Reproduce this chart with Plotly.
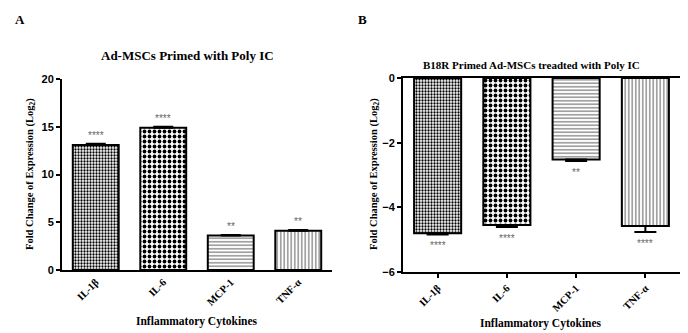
import plotly.graph_objects as go

W, H = 688, 333

categories = ["IL-1β", "IL-6", "MCP-1", "TNF-α"]
a_values = [13.1, 14.9, 3.6, 4.1]
a_errors = [0.12, 0.1, 0.06, 0.08]
a_stars = ["****", "****", "**", "**"]
b_values = [-4.8, -4.55, -2.52, -4.58]
b_errors = [0.04, 0.06, 0.05, 0.18]
b_stars = ["****", "****", "**", "****"]
a_yticks = [0, 5, 10, 15, 20]
b_yticks = [-6, -4, -2, 0]

patterns = [
    dict(shape=".", size=3, solidity=0.45, fgcolor="black", bgcolor="white", fillmode="replace"),
    dict(shape=".", size=5, solidity=0.45, fgcolor="black", bgcolor="white", fillmode="replace"),
    dict(shape="-", size=3.5, solidity=0.25, fgcolor="#444444", bgcolor="white", fillmode="replace"),
    dict(shape="|", size=3.5, solidity=0.25, fgcolor="#444444", bgcolor="white", fillmode="replace"),
]

SERIF = "Liberation Serif"
SANS = "Liberation Sans"

def px_x(p):
    return p / W

def px_y(p):
    return 1 - p / H

fig = go.Figure()

for i, cat in enumerate(categories):
    fig.add_trace(go.Bar(
        x=[cat], y=[a_values[i]], xaxis="x", yaxis="y", width=0.68,
        marker=dict(color="white", pattern=patterns[i], line=dict(color="black", width=2)),
        error_y=dict(type="data", symmetric=False, array=[a_errors[i]], arrayminus=[0],
                     color="black", thickness=2, width=10),
        showlegend=False,
    ))
    fig.add_trace(go.Bar(
        x=[cat], y=[b_values[i]], xaxis="x2", yaxis="y2", width=0.68,
        marker=dict(color="white", pattern=patterns[i], line=dict(color="black", width=2)),
        error_y=dict(type="data", symmetric=False, array=[0], arrayminus=[b_errors[i]],
                     color="black", thickness=2, width=11),
        showlegend=False,
    ))

annotations = []
for i, cat in enumerate(categories):
    annotations.append(dict(x=cat, y=a_values[i] + a_errors[i], xref="x", yref="y",
                            text=a_stars[i], showarrow=False, yanchor="bottom", yshift=1,
                            font=dict(family=SANS, size=10, color="#666666")))
    annotations.append(dict(x=cat, y=b_values[i] - b_errors[i], xref="x2", yref="y2",
                            text=b_stars[i], showarrow=False, yanchor="top", yshift=-4,
                            font=dict(family=SANS, size=10, color="#666666")))

def txt(x, y, text, size, angle=0, family=SERIF):
    return dict(x=px_x(x), y=px_y(y), xref="paper", yref="paper", text=text,
                showarrow=False, textangle=angle, xanchor="center", yanchor="middle",
                font=dict(family=family, size=size, color="black", weight="bold"))

annotations += [
    txt(20, 19, "A", 13),
    txt(362, 19, "B", 13),
    txt(187, 56, "Ad-MSCs Primed with Poly IC", 13),
    txt(531, 65, "B18R Primed Ad-MSCs treadted with Poly IC", 11),
    txt(30, 174, "Fold Change of Expression (Log<sub>2</sub>)", 10.5, -90),
    txt(374, 174, "Fold Change of Expression (Log<sub>2</sub>)", 10.5, -90),
    txt(197, 321, "Inflammatory Cytokines", 11.5),
    txt(541, 323, "Inflammatory Cytokines", 11.5),
]

xcommon = dict(type="category", categoryorder="array", categoryarray=categories,
               range=[-0.5, 3.5], showline=True, linecolor="black", linewidth=2,
               showgrid=False, zeroline=False, tickangle=-45,
               tickfont=dict(family=SERIF, size=10.5, color="black", weight="bold"),
               automargin=False)
ycommon = dict(showline=True, linecolor="black", linewidth=2, showgrid=False,
               ticks="outside", ticklen=4, tickwidth=2, tickcolor="black",
               tickfont=dict(family=SANS, size=11, color="black", weight="bold"),
               automargin=False)

fig.update_layout(
    width=W, height=H,
    margin=dict(l=0, r=0, t=0, b=0),
    paper_bgcolor="white", plot_bgcolor="white",
    barmode="overlay",
    xaxis=dict(**xcommon, domain=[px_x(62), px_x(332)], anchor="y", ticks=""),
    yaxis=dict(**ycommon, domain=[px_y(270), px_y(79)], anchor="x", range=[0, 20],
               tickvals=a_yticks, zeroline=False),
    xaxis2=dict(**xcommon, domain=[px_x(403), px_x(680)], anchor="y2", mirror=True,
                ticks="outside", ticklen=4, tickwidth=2, tickcolor="black"),
    yaxis2=dict(**ycommon, domain=[px_y(272), px_y(78)], anchor="x2", range=[-6, 0],
                tickvals=b_yticks, zeroline=False),
    annotations=annotations,
)

fig.write_html("out.html")
